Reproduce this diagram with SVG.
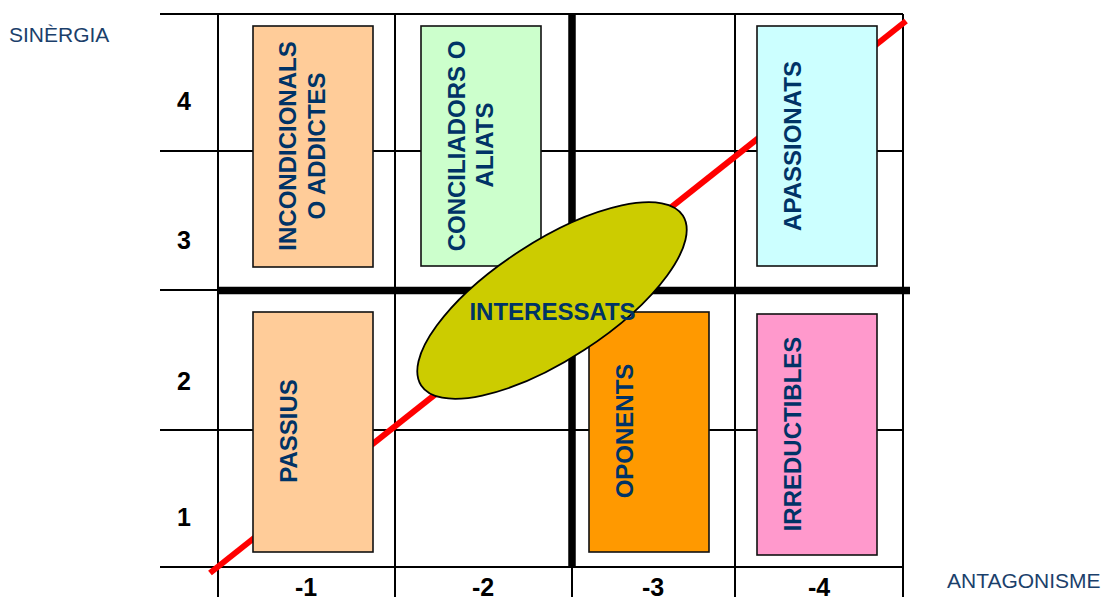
<svg xmlns="http://www.w3.org/2000/svg" width="1103" height="597" viewBox="0 0 1103 597">
  <style>
    .grid { stroke: #000; stroke-width: 2; fill: none; }
    .axis { stroke: #000; stroke-width: 7.5; fill: none; }
    .box { stroke: #111; stroke-width: 1.6; }
    .lbl { font-family: "Liberation Sans", Arial, sans-serif; font-weight: bold; font-size: 24px; fill: #003366; }
    .num { font-family: "Liberation Sans", Arial, sans-serif; font-weight: bold; font-size: 25px; fill: #000; text-anchor: middle; }
    .axtitle { font-family: "Liberation Sans", Arial, sans-serif; font-size: 21px; fill: #1B3F6B; }
  </style>

  <rect width="1103" height="597" fill="#fff"/>

  <!-- axis titles -->
  <text class="axtitle" x="9" y="42">SINÈRGIA</text>
  <text class="axtitle" x="947" y="588">ANTAGONISME</text>

  <!-- grid -->
  <g id="grid">
    <line class="grid" x1="160" y1="14" x2="903" y2="14"/>
    <line class="grid" x1="160" y1="151" x2="903" y2="151"/>
    <line class="grid" x1="160" y1="290" x2="218" y2="290"/>
    <line class="grid" x1="160" y1="430" x2="903" y2="430"/>
    <line class="grid" x1="160" y1="567" x2="903" y2="567"/>
    <line class="grid" x1="218" y1="14" x2="218" y2="597"/>
    <line class="grid" x1="395" y1="14" x2="395" y2="597"/>
    <line class="grid" x1="572" y1="567" x2="572" y2="597"/>
    <line class="grid" x1="735" y1="14" x2="735" y2="597"/>
    <line class="grid" x1="903" y1="14" x2="903" y2="597"/>
    <line class="axis" x1="218" y1="290.5" x2="910" y2="290.5"/>
    <line class="axis" x1="572" y1="13" x2="572" y2="567"/>
  </g>

  <!-- row and column numbers -->
  <g id="scale">
    <text class="num" x="184" y="110">4</text>
    <text class="num" x="184" y="249">3</text>
    <text class="num" x="184" y="390">2</text>
    <text class="num" x="184" y="526">1</text>
    <text class="num" x="306" y="596">-1</text>
    <text class="num" x="483" y="596">-2</text>
    <text class="num" x="653" y="596">-3</text>
    <text class="num" x="819" y="596">-4</text>
  </g>

  <!-- diagonal trend line -->
  <g id="connectors">
    <line x1="210" y1="573" x2="906" y2="21" stroke="#ff0000" stroke-width="6"/>
  </g>

  <g id="incondicionals">
    <rect class="box" x="253" y="26" width="120" height="241" fill="#FFCC99"/>
    <text class="lbl" text-anchor="middle" transform="translate(296 146) rotate(-90)">INCONDICIONALS</text>
    <text class="lbl" text-anchor="middle" transform="translate(324.5 146) rotate(-90)">O ADDICTES</text>
  </g>

  <g id="conciliadors">
    <rect class="box" x="421" y="26" width="120" height="240" fill="#CCFFCC"/>
    <text class="lbl" text-anchor="middle" transform="translate(465 146) rotate(-90)">CONCILIADORS O</text>
    <text class="lbl" text-anchor="middle" transform="translate(493 145) rotate(-90)">ALIATS</text>
  </g>

  <g id="apassionats">
    <rect class="box" x="757" y="26" width="120" height="240" fill="#CCFFFF"/>
    <text class="lbl" text-anchor="middle" transform="translate(801 146) rotate(-90)">APASSIONATS</text>
  </g>

  <g id="passius">
    <rect class="box" x="253" y="312" width="120" height="240" fill="#FFCC99"/>
    <text class="lbl" text-anchor="middle" transform="translate(296.5 431) rotate(-90)">PASSIUS</text>
  </g>

  <g id="oponents">
    <rect class="box" x="589" y="312" width="120" height="240" fill="#FF9900"/>
    <text class="lbl" text-anchor="middle" transform="translate(632.5 431) rotate(-90)">OPONENTS</text>
  </g>

  <g id="irreductibles">
    <rect class="box" x="757" y="314" width="120" height="241" fill="#FF99CC"/>
    <text class="lbl" text-anchor="middle" transform="translate(800.5 434) rotate(-90)">IRREDUCTIBLES</text>
  </g>

  <g id="interessats">
    <ellipse cx="552" cy="300.5" rx="156" ry="59" transform="rotate(-33 552 300.5)" fill="#CCCC00" stroke="#000" stroke-width="1.8"/>
    <text class="lbl" x="552.5" y="320" text-anchor="middle">INTERESSATS</text>
  </g>
</svg>
